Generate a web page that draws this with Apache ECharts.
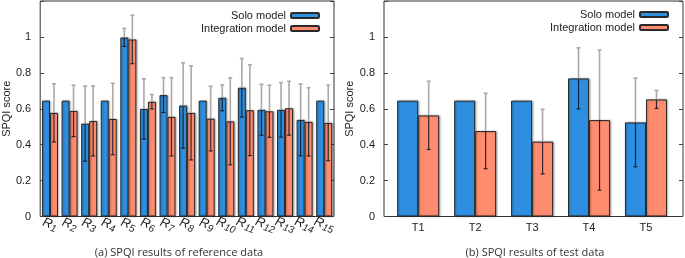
<!DOCTYPE html>
<html>
<head>
<meta charset="utf-8">
<script src="https://cdn.jsdelivr.net/npm/echarts@6/dist/echarts.min.js"></script>
<style>
  html, body { margin: 0; padding: 0; background: #fff; }
  #main { width: 685px; height: 258px; }
</style>
</head>
<body>
<div id="main"></div>
<script>
// reference data (a)
var refCats = ['R1', 'R2', 'R3', 'R4', 'R5', 'R6', 'R7', 'R8', 'R9', 'R10', 'R11', 'R12', 'R13', 'R14', 'R15'];
var soloRef = [0.645, 0.645, 0.517, 0.645, 0.997, 0.599, 0.676, 0.618, 0.645, 0.661, 0.717, 0.594, 0.594, 0.538, 0.645];
var soloRefErr = [0, 0, 0.209, 0, 0.05, 0.168, 0.097, 0.238, 0, 0.072, 0.163, 0.142, 0.152, 0.2, 0];
var integRef = [0.577, 0.588, 0.532, 0.543, 0.986, 0.639, 0.555, 0.577, 0.545, 0.530, 0.592, 0.586, 0.603, 0.527, 0.521];
var integRefErr = [0.162, 0.143, 0.195, 0.199, 0.135, 0.04, 0.218, 0.262, 0.18, 0.242, 0.253, 0.145, 0.15, 0.19, 0.21];

// test data (b)
var testCats = ['T1', 'T2', 'T3', 'T4', 'T5'];
var soloTest = [0.645, 0.645, 0.645, 0.769, 0.524];
var soloTestErr = [0, 0, 0, 0.17, 0.247];
var integTest = [0.563, 0.476, 0.417, 0.537, 0.652];
var integTestErr = [0.19, 0.21, 0.18, 0.39, 0.05];

var yTicks = [0, 0.2, 0.4, 0.6, 0.8, 1];
var captions = ['(a) SPQI results of reference data', '(b) SPQI results of test data'];

var BLUE = '#2e8fe0';
var ORANGE = '#ff8c6f';
var INK = '#222';
var tickFont = 'Liberation Sans';

var chart = echarts.init(document.getElementById('main'));

function errData(vals, errs, xs) {
    return vals.map(function (v, i) { return [xs ? xs[i] : i, v, errs[i]]; });
}

// whisker: dark inside the bar, grey above it
function errRender(offset) {
    return function (params, api) {
        var x = api.value(0), y = api.value(1), e = api.value(2);
        if (!e) return null;
        var mid = api.coord([x, y]);
        var hi = api.coord([x, y + e]);
        var lo = api.coord([x, y - e]);
        var cx = mid[0] + offset;
        var dark = { stroke: 'rgba(15,20,30,0.85)', lineWidth: 1.2 };
        var grey = { stroke: '#a9a9a9', lineWidth: 1.6 };
        return {
            type: 'group',
            children: [
                { type: 'line', shape: { x1: cx, y1: lo[1], x2: cx, y2: mid[1] }, style: dark },
                { type: 'line', shape: { x1: cx, y1: mid[1], x2: cx, y2: hi[1] }, style: grey },
                { type: 'line', shape: { x1: cx - 2, y1: lo[1], x2: cx + 2, y2: lo[1] }, style: dark },
                { type: 'line', shape: { x1: cx - 2, y1: hi[1], x2: cx + 2, y2: hi[1] }, style: grey }
            ]
        };
    };
}

function yAxisFor(grid, side) {
    return {
        type: 'value', gridIndex: grid, position: side,
        min: 0, max: 1.2, interval: 0.2,
        name: side === 'left' ? 'SPQI score' : '',
        nameLocation: 'middle', nameGap: 24,
        nameTextStyle: { fontFamily: tickFont, fontSize: 11, color: INK },
        axisLine: { show: false },
        axisTick: { show: true, inside: true, length: 4, lineStyle: { color: '#444' } },
        axisLabel: {
            show: side === 'left', margin: 9, fontFamily: tickFont, fontSize: 11, color: INK,
            formatter: function (v) { return yTicks.indexOf(+v.toFixed(1)) >= 0 ? String(+v.toFixed(1)) : ''; }
        },
        splitLine: { show: false }
    };
}

var barStyle = function (c) {
    return { color: c, borderColor: '#2a2a2a', borderWidth: 1,
             shadowColor: 'rgba(0,0,0,0.3)', shadowBlur: 2, shadowOffsetX: 1 };
};

var testX = testCats.map(function (c, i) { return i + 1; });

var option = {
    animation: false,
    backgroundColor: '#fff',
    title: [
        { text: captions[0], left: 174, top: 242, textAlign: 'center',
          textStyle: { fontFamily: 'Open Sans', fontSize: 11, fontWeight: 'normal', color: '#333' } },
        { text: captions[1], left: 530, top: 242, textAlign: 'center',
          textStyle: { fontFamily: 'Open Sans', fontSize: 11, fontWeight: 'normal', color: '#333' } }
    ],
    legend: [
        { data: ['Solo model', 'Integration model'], orient: 'vertical', align: 'right',
          right: 360, top: 5, itemWidth: 28, itemHeight: 5, itemGap: 2,
          textStyle: { fontFamily: tickFont, fontSize: 11, color: INK } },
        { data: ['Solo model', 'Integration model'], orient: 'vertical', align: 'right',
          right: 11, top: 4, itemWidth: 28, itemHeight: 5, itemGap: 2,
          textStyle: { fontFamily: tickFont, fontSize: 11, color: INK } }
    ],
    grid: [
        { left: 37, right: 351, top: 1, bottom: 41.5, show: true, borderColor: '#333', borderWidth: 1 },
        { left: 384, right: 2, top: 1, bottom: 41.5, show: true, borderColor: '#333', borderWidth: 1 }
    ],
    xAxis: [
        {
            type: 'category', gridIndex: 0, data: refCats,
            axisLine: { show: false }, axisTick: { show: false },
            axisLabel: {
                interval: 0, rotate: -20, align: 'center', margin: 8,
                formatter: function (v) { return '{r|R}{s|' + v.slice(1) + '}'; },
                rich: {
                    r: { fontFamily: tickFont, fontStyle: 'italic', fontSize: 13, color: INK },
                    s: { fontFamily: tickFont, fontStyle: 'italic', fontSize: 10, color: INK, padding: [6, 0, 0, 0] }
                }
            }
        },
        {
            type: 'value', gridIndex: 1, min: 0.4, max: 5.65,
            axisLine: { show: false }, axisTick: { show: false }, splitLine: { show: false },
            axisLabel: {
                customValues: testX, margin: 6, fontFamily: tickFont, fontSize: 11, color: INK,
                formatter: function (v) { return testCats[Math.round(v) - 1] || ''; }
            }
        }
    ],
    yAxis: [yAxisFor(0, 'left'), yAxisFor(0, 'right'), yAxisFor(1, 'left'), yAxisFor(1, 'right')],
    series: [
        { name: 'Solo model', type: 'bar', xAxisIndex: 0, yAxisIndex: 0, data: soloRef,
          barWidth: 8, barGap: '0%', itemStyle: barStyle(BLUE) },
        { name: 'Integration model', type: 'bar', xAxisIndex: 0, yAxisIndex: 0, data: integRef,
          barWidth: 8, barGap: '0%', itemStyle: barStyle(ORANGE) },
        { type: 'custom', xAxisIndex: 0, yAxisIndex: 0, z: 5, data: errData(soloRef, soloRefErr),
          renderItem: errRender(-4) },
        { type: 'custom', xAxisIndex: 0, yAxisIndex: 0, z: 5, data: errData(integRef, integRefErr),
          renderItem: errRender(4) },

        { name: 'Solo model', type: 'bar', xAxisIndex: 1, yAxisIndex: 2,
          data: soloTest.map(function (v, i) { return [testX[i], v]; }),
          barWidth: 21, barGap: '0%', itemStyle: barStyle(BLUE) },
        { name: 'Integration model', type: 'bar', xAxisIndex: 1, yAxisIndex: 2,
          data: integTest.map(function (v, i) { return [testX[i], v]; }),
          barWidth: 21, barGap: '0%', itemStyle: barStyle(ORANGE) },
        { type: 'custom', xAxisIndex: 1, yAxisIndex: 2, z: 5, data: errData(soloTest, soloTestErr, testX),
          renderItem: errRender(-10.5) },
        { type: 'custom', xAxisIndex: 1, yAxisIndex: 2, z: 5, data: errData(integTest, integTestErr, testX),
          renderItem: errRender(10.5) }
    ]
};
chart.setOption(option);
</script>
</body>
</html>
